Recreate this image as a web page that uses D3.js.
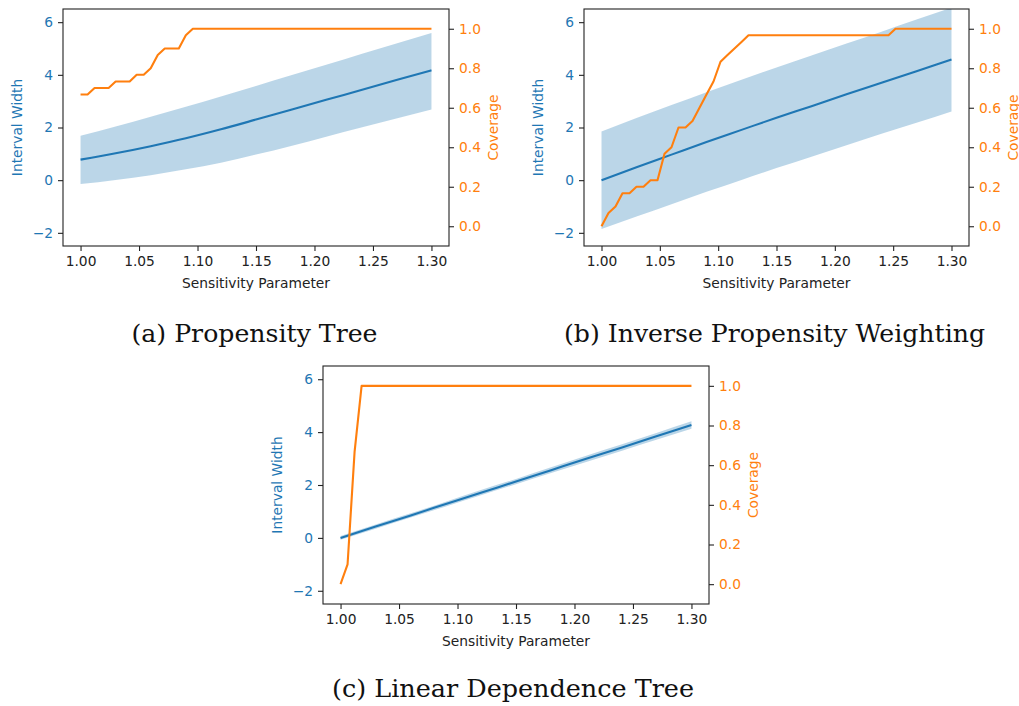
<!DOCTYPE html>
<html>
<head>
<meta charset="utf-8">
<script src="https://cdn.jsdelivr.net/npm/d3@7"></script>
<style>
  body { margin: 0; background: #fff; }
  svg { display: block; }
  .tick text { font-family: "DejaVu Sans", sans-serif; font-size: 13.8px; }
  .axis-label { font-family: "DejaVu Sans", sans-serif; font-size: 13.8px; }
  .caption { font-family: "DejaVu Serif", serif; font-size: 24px; fill: #111; }
</style>
</head>
<body>
<svg id="chart" width="1019" height="706"></svg>
<script>
// sensitivity grid for the interval band (every 0.03)
const bandX = [1.00, 1.03, 1.06, 1.09, 1.12, 1.15, 1.18, 1.21, 1.24, 1.27, 1.30];

// sensitivity grid for coverage (51 points, step 0.006)
const coverageX = [1.000, 1.006, 1.012, 1.018, 1.024, 1.030, 1.036, 1.042, 1.048, 1.054,
    1.060, 1.066, 1.072, 1.078, 1.084, 1.090, 1.096, 1.102, 1.108, 1.114,
    1.120, 1.126, 1.132, 1.138, 1.144, 1.150, 1.156, 1.162, 1.168, 1.174,
    1.180, 1.186, 1.192, 1.198, 1.204, 1.210, 1.216, 1.222, 1.228, 1.234,
    1.240, 1.246, 1.252, 1.258, 1.264, 1.270, 1.276, 1.282, 1.288, 1.294, 1.300];

// (a) Propensity Tree
const treeMean  = [0.78, 1.02, 1.29, 1.59, 1.93, 2.30, 2.67, 3.05, 3.42, 3.80, 4.17];
const treeLower = [-0.15, 0.01, 0.19, 0.41, 0.66, 0.97, 1.30, 1.65, 2.00, 2.34, 2.68];
const treeUpper = [1.69, 2.04, 2.41, 2.79, 3.18, 3.58, 3.98, 4.38, 4.79, 5.19, 5.59];
const treeCoverage = [0.667, 0.667, 0.700, 0.700, 0.700, 0.733, 0.733, 0.733, 0.767, 0.767,
    0.800, 0.867, 0.900, 0.900, 0.900, 0.967, 1, 1, 1, 1,
    1, 1, 1, 1, 1, 1, 1, 1, 1, 1,
    1, 1, 1, 1, 1, 1, 1, 1, 1, 1,
    1, 1, 1, 1, 1, 1, 1, 1, 1, 1, 1];

// (b) Inverse Propensity Weighting
const ipwMean  = [0.00, 0.49, 0.97, 1.45, 1.91, 2.37, 2.81, 3.26, 3.70, 4.14, 4.58];
const ipwLower = [-1.85, -1.38, -0.91, -0.44, 0.01, 0.46, 0.89, 1.33, 1.76, 2.18, 2.61];
const ipwUpper = [1.85, 2.36, 2.85, 3.34, 3.81, 4.28, 4.73, 5.19, 5.64, 6.10, 6.55];
const ipwCoverage = [0.000, 0.067, 0.100, 0.167, 0.167, 0.200, 0.200, 0.233, 0.233, 0.367,
    0.400, 0.500, 0.500, 0.533, 0.600, 0.667, 0.733, 0.833, 0.867, 0.900,
    0.933, 0.967, 0.967, 0.967, 0.967, 0.967, 0.967, 0.967, 0.967, 0.967,
    0.967, 0.967, 0.967, 0.967, 0.967, 0.967, 0.967, 0.967, 0.967, 0.967,
    0.967, 0.967, 1, 1, 1, 1, 1, 1, 1, 1, 1];

// (c) Linear Dependence Tree
const ldtMean  = [0.00, 0.43, 0.85, 1.28, 1.71, 2.13, 2.56, 2.99, 3.41, 3.84, 4.27];
const ldtLower = [-0.07, 0.35, 0.77, 1.19, 1.61, 2.03, 2.45, 2.87, 3.29, 3.71, 4.13];
const ldtUpper = [0.07, 0.51, 0.93, 1.37, 1.81, 2.23, 2.67, 3.11, 3.53, 3.97, 4.41];
const ldtCoverage = [0.000, 0.100, 0.667, 1, 1, 1, 1, 1, 1, 1,
    1, 1, 1, 1, 1, 1, 1, 1, 1, 1,
    1, 1, 1, 1, 1, 1, 1, 1, 1, 1,
    1, 1, 1, 1, 1, 1, 1, 1, 1, 1,
    1, 1, 1, 1, 1, 1, 1, 1, 1, 1, 1];

// ticks
const xTicks = [1.00, 1.05, 1.10, 1.15, 1.20, 1.25, 1.30];
const widthTicks = [-2, 0, 2, 4, 6];
const coverageTicks = [0.0, 0.2, 0.4, 0.6, 0.8, 1.0];

const captions = ['(a) Propensity Tree', '(b) Inverse Propensity Weighting', '(c) Linear Dependence Tree'];

const blue = '#1f77b4';
const orange = '#ff7f0e';

const panels = [
    { box: { left: 63, top: 9, right: 449, bottom: 246 }, mean: treeMean, lower: treeLower, upper: treeUpper,
      coverage: treeCoverage, caption: { x: 254.5, y: 342, len: 246 } },
    { box: { left: 584, top: 9, right: 969, bottom: 246 }, mean: ipwMean, lower: ipwLower, upper: ipwUpper,
      coverage: ipwCoverage, caption: { x: 774.5, y: 342, len: 421 } },
    { box: { left: 323, top: 366, right: 709, bottom: 604 }, mean: ldtMean, lower: ldtLower, upper: ldtUpper,
      coverage: ldtCoverage, caption: { x: 513, y: 697, len: 362 } }
];

const svg = d3.select('#chart');
const minus = d => d < 0 ? '\u2212' + Math.abs(d) : String(d);

function styleAxis(g, labelColor) {
    g.select('.domain').remove();
    g.selectAll('.tick line').attr('stroke', '#222').attr('stroke-width', 1.1);
    g.selectAll('.tick text').attr('fill', labelColor);
}

panels.forEach((p, idx) => {
    const b = p.box;
    const x = d3.scaleLinear().domain([0.985, 1.315]).range([b.left, b.right]);
    const yW = d3.scaleLinear().domain([-2.5, 6.5]).range([b.bottom, b.top]);
    const yC = d3.scaleLinear().domain([-0.1, 1.1]).range([b.bottom, b.top]);

    const clipId = `clip-${idx}`;
    svg.append('clipPath').attr('id', clipId).append('rect')
        .attr('x', b.left).attr('y', b.top)
        .attr('width', b.right - b.left).attr('height', b.bottom - b.top);

    const plot = svg.append('g').attr('clip-path', `url(#${clipId})`);

    // Interval band
    const area = d3.area()
        .x((d, i) => x(bandX[i]))
        .y0((d, i) => yW(p.lower[i]))
        .y1((d, i) => yW(p.upper[i]))
        .curve(d3.curveMonotoneX);
    plot.append('path').datum(p.mean).attr('d', area)
        .attr('fill', blue).attr('fill-opacity', 0.3);

    // Mean width
    const line = d3.line()
        .x((d, i) => x(bandX[i]))
        .y(d => yW(d))
        .curve(d3.curveMonotoneX);
    plot.append('path').datum(p.mean).attr('d', line)
        .attr('fill', 'none').attr('stroke', blue).attr('stroke-width', 2.1);

    // Coverage
    const covLine = d3.line()
        .x((d, i) => x(coverageX[i]))
        .y(d => yC(d));
    plot.append('path').datum(p.coverage).attr('d', covLine)
        .attr('fill', 'none').attr('stroke', orange).attr('stroke-width', 2.1)
        .attr('stroke-linejoin', 'round');

    // Axes
    svg.append('g').attr('transform', `translate(0,${b.bottom})`)
        .call(d3.axisBottom(x).tickValues(xTicks).tickFormat(d3.format('.2f'))
            .tickSize(5).tickPadding(5.5).tickSizeOuter(0))
        .call(g => styleAxis(g, '#222'));

    svg.append('g').attr('transform', `translate(${b.left},0)`)
        .call(d3.axisLeft(yW).tickValues(widthTicks).tickFormat(minus)
            .tickSize(5).tickPadding(5).tickSizeOuter(0))
        .call(g => styleAxis(g, blue));

    svg.append('g').attr('transform', `translate(${b.right},0)`)
        .call(d3.axisRight(yC).tickValues(coverageTicks).tickFormat(d3.format('.1f'))
            .tickSize(5).tickPadding(5).tickSizeOuter(0))
        .call(g => styleAxis(g, orange));

    // Frame
    svg.append('rect')
        .attr('x', b.left).attr('y', b.top)
        .attr('width', b.right - b.left).attr('height', b.bottom - b.top)
        .attr('fill', 'none').attr('stroke', '#222').attr('stroke-width', 1.1);

    // Axis labels
    svg.append('text').attr('class', 'axis-label')
        .attr('x', (b.left + b.right) / 2).attr('y', b.bottom + 41.5)
        .attr('text-anchor', 'middle').attr('fill', '#222')
        .text('Sensitivity Parameter');

    const midY = (b.top + b.bottom) / 2;
    svg.append('text').attr('class', 'axis-label')
        .attr('transform', `translate(${b.left - 41.3},${midY}) rotate(-90)`)
        .attr('text-anchor', 'middle').attr('fill', blue)
        .text('Interval Width');

    svg.append('text').attr('class', 'axis-label')
        .attr('transform', `translate(${b.right + 48.5},${midY}) rotate(-90)`)
        .attr('text-anchor', 'middle').attr('fill', orange)
        .text('Coverage');

    // Caption
    svg.append('text').attr('class', 'caption')
        .attr('x', p.caption.x).attr('y', p.caption.y)
        .attr('text-anchor', 'middle')
        .attr('textLength', p.caption.len).attr('lengthAdjust', 'spacingAndGlyphs')
        .text(captions[idx]);
});
</script>
</body>
</html>
